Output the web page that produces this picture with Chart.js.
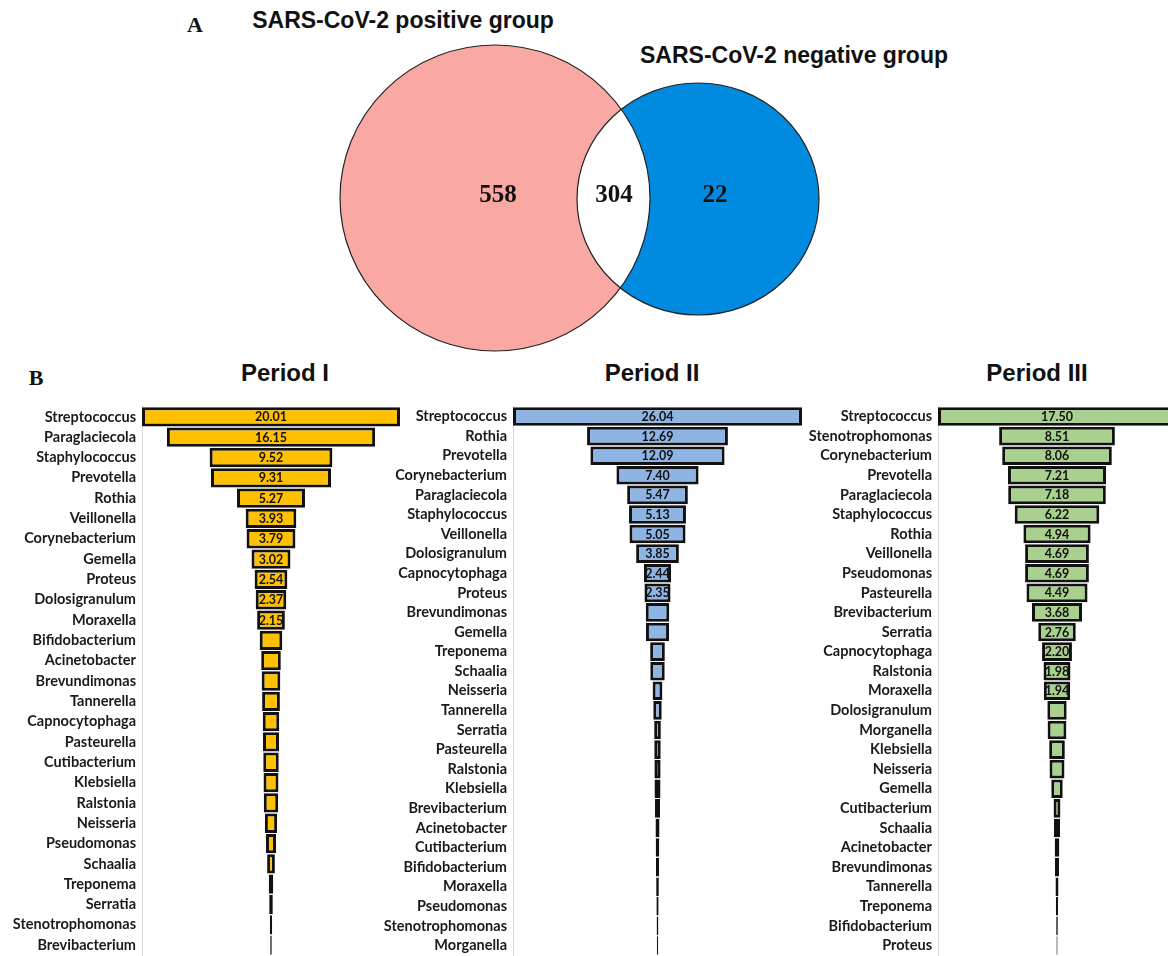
<!DOCTYPE html>
<html>
<head>
<meta charset="utf-8">
<script src="https://cdn.jsdelivr.net/npm/chart.js@4.4.0/dist/chart.umd.min.js"></script>
<style>
html, body { margin: 0; padding: 0; background: #fff; overflow: hidden; }
#fig { position: relative; width: 1168px; height: 956px; overflow: hidden; }
canvas { position: absolute; }
.ttl { position: absolute; white-space: nowrap; transform: translate(-50%, -50%);
       font-family: "Liberation Sans", Arial, sans-serif; font-weight: bold; color: #111; }
.lbl { position: absolute; transform: translate(-50%, -50%);
       font-family: "Liberation Serif", "Times New Roman", serif; font-weight: bold; color: #111; font-size: 22px; }
</style>
</head>
<body>
<div id="fig">
  <div class="lbl" style="left:195px;top:25px">A</div>
  <div class="lbl" style="left:36px;top:378px">B</div>
  <div class="ttl" id="setA" style="left:403px;top:20px;font-size:23px"></div>
  <div class="ttl" id="setB" style="left:794px;top:55px;font-size:23px"></div>
  <div class="ttl" style="left:285px;top:373px;font-size:24px">Period I</div>
  <div class="ttl" style="left:652px;top:373px;font-size:24px">Period II</div>
  <div class="ttl" style="left:1037px;top:373px;font-size:24px">Period III</div>

  <canvas id="venn" width="520" height="340" style="left:320px;top:30px"></canvas>
  <canvas id="p1" width="402" height="578" style="left:0px;top:392px"></canvas>
  <canvas id="p2" width="436" height="578" style="left:370px;top:392px"></canvas>
  <canvas id="p3" width="376" height="578" style="left:800px;top:392px"></canvas>
</div>
<script>
// ---- Venn (A) ----
const vennSets = ['SARS-CoV-2 positive group', 'SARS-CoV-2 negative group'];
const vennCounts = [558, 304, 22]; // positive only, shared, negative only
const vennColors = ['#F9A8A3', '#008BE0'];

// ---- Funnels (B) ----
const period1Labels = ['Streptococcus', 'Paraglaciecola', 'Staphylococcus', 'Prevotella', 'Rothia',
  'Veillonella', 'Corynebacterium', 'Gemella', 'Proteus', 'Dolosigranulum', 'Moraxella',
  'Bifidobacterium', 'Acinetobacter', 'Brevundimonas', 'Tannerella', 'Capnocytophaga', 'Pasteurella',
  'Cutibacterium', 'Klebsiella', 'Ralstonia', 'Neisseria', 'Pseudomonas', 'Schaalia', 'Treponema',
  'Serratia', 'Stenotrophomonas', 'Brevibacterium'];
const period1Values = [20.01, 16.15, 9.52, 9.31, 5.27, 3.93, 3.79, 3.02, 2.54, 2.37, 2.15,
  1.75, 1.52, 1.45, 1.38, 1.28, 1.24, 1.20, 1.16, 1.12, 0.95, 0.78, 0.60, 0.35, 0.28, 0.18, 0.12];

const period2Labels = ['Streptococcus', 'Rothia', 'Prevotella', 'Corynebacterium', 'Paraglaciecola',
  'Staphylococcus', 'Veillonella', 'Dolosigranulum', 'Capnocytophaga', 'Proteus', 'Brevundimonas',
  'Gemella', 'Treponema', 'Schaalia', 'Neisseria', 'Tannerella', 'Serratia', 'Pasteurella', 'Ralstonia',
  'Klebsiella', 'Brevibacterium', 'Acinetobacter', 'Cutibacterium', 'Bifidobacterium', 'Moraxella',
  'Pseudomonas', 'Stenotrophomonas', 'Morganella'];
const period2Values = [26.04, 12.69, 12.09, 7.40, 5.47, 5.13, 5.05, 3.85, 2.44, 2.35,
  2.12, 2.08, 1.32, 1.30, 0.88, 0.76, 0.60, 0.58, 0.56, 0.54, 0.45, 0.36, 0.32, 0.28, 0.24, 0.20, 0.16, 0.12];

const period3Labels = ['Streptococcus', 'Stenotrophomonas', 'Corynebacterium', 'Prevotella', 'Paraglaciecola',
  'Staphylococcus', 'Rothia', 'Veillonella', 'Pseudomonas', 'Pasteurella', 'Brevibacterium', 'Serratia',
  'Capnocytophaga', 'Ralstonia', 'Moraxella', 'Dolosigranulum', 'Morganella', 'Klebsiella', 'Neisseria',
  'Gemella', 'Cutibacterium', 'Schaalia', 'Acinetobacter', 'Brevundimonas', 'Tannerella', 'Treponema',
  'Bifidobacterium', 'Proteus'];
const period3Values = [17.50, 8.51, 8.06, 7.21, 7.18, 6.22, 4.94, 4.69, 4.69, 4.49, 3.68, 2.76, 2.20, 1.98, 1.94,
  1.42, 1.38, 1.15, 1.10, 0.84, 0.50, 0.44, 0.34, 0.30, 0.22, 0.17, 0.12, 0.08];

const labeledCounts = [11, 10, 15]; // bars that carry a value label

document.getElementById('setA').textContent = vennSets[0];
document.getElementById('setB').textContent = vennSets[1];

// ellipse layout in chart units (x 0..520, y 0..340)
const vennShapes = [
  { cx: 175, cy: 168, rx: 155, ry: 153 },
  { cx: 378, cy: 169, rx: 121, ry: 116 }
];
const vennTextPos = [{ x: 178, y: 166 }, { x: 294, y: 166 }, { x: 395, y: 166 }];

function ellipsePath(ctx, s, xs, ys) {
  const px = xs.getPixelForValue(s.cx), py = ys.getPixelForValue(s.cy);
  const rx = Math.abs(xs.getPixelForValue(s.cx + s.rx) - px);
  const ry = Math.abs(ys.getPixelForValue(s.cy + s.ry) - py);
  ctx.beginPath();
  ctx.ellipse(px, py, rx, ry, 0, 0, Math.PI * 2);
}

const vennPlugin = {
  id: 'venn',
  beforeDatasetsDraw(chart) {
    const { ctx, scales: { x, y } } = chart;
    ctx.save();
    vennShapes.forEach((s, i) => {
      ellipsePath(ctx, s, x, y);
      ctx.fillStyle = vennColors[i];
      ctx.fill();
    });
    // shared part is white
    ctx.save();
    ellipsePath(ctx, vennShapes[0], x, y);
    ctx.clip();
    ellipsePath(ctx, vennShapes[1], x, y);
    ctx.fillStyle = '#fff';
    ctx.fill();
    ctx.restore();
    ctx.lineWidth = 1.2;
    ctx.strokeStyle = '#222';
    vennShapes.forEach(s => { ellipsePath(ctx, s, x, y); ctx.stroke(); });
    ctx.restore();
  },
  afterDatasetsDraw(chart) {
    const { ctx } = chart;
    const meta = chart.getDatasetMeta(0);
    ctx.save();
    ctx.font = 'bold 25px "Liberation Serif", "Times New Roman", serif';
    ctx.fillStyle = '#111';
    ctx.textAlign = 'center';
    ctx.textBaseline = 'middle';
    meta.data.forEach((pt, i) => ctx.fillText(String(vennCounts[i]), pt.x, pt.y));
    ctx.restore();
  }
};

new Chart(document.getElementById('venn'), {
  type: 'scatter',
  data: { datasets: [{ data: vennCounts.map((c, i) => vennTextPos[i]), pointRadius: 0 }] },
  options: {
    responsive: false, animation: false, events: [], devicePixelRatio: 1,
    layout: { padding: 0 },
    plugins: { legend: { display: false }, tooltip: { enabled: false } },
    scales: {
      x: { display: false, min: 0, max: 520 },
      y: { display: false, min: 0, max: 340, reverse: true }
    }
  },
  plugins: [vennPlugin]
});

function valueLabels(values, n) {
  return {
    id: 'valueLabels',
    afterDatasetsDraw(chart) {
      const { ctx } = chart;
      const meta = chart.getDatasetMeta(0);
      ctx.save();
      ctx.font = 'bold 12.5px Lato, sans-serif';
      ctx.fillStyle = '#111';
      ctx.textAlign = 'center';
      ctx.textBaseline = 'middle';
      for (let i = 0; i < n; i++) {
        const el = meta.data[i];
        ctx.fillText(values[i].toFixed(2), (el.x + el.base) / 2, el.y + 0.5);
      }
      ctx.restore();
    }
  };
}

function funnel(id, labels, values, color, nLabeled, axisW, padRight) {
  const half = Math.max(...values) / 2;
  new Chart(document.getElementById(id), {
    type: 'bar',
    data: {
      labels: labels,
      datasets: [{
        data: values.map(v => [-v / 2, v / 2]),
        backgroundColor: color,
        borderColor: '#111',
        borderWidth: 3,
        borderSkipped: false,
        barPercentage: 0.95,
        categoryPercentage: 1
      }]
    },
    options: {
      indexAxis: 'y',
      responsive: false, animation: false, events: [], devicePixelRatio: 1,
      layout: { padding: { top: 0, bottom: 0, left: 0, right: padRight } },
      plugins: { legend: { display: false }, tooltip: { enabled: false } },
      scales: {
        x: { display: false, min: -half, max: half },
        y: {
          afterFit: s => { s.width = axisW; },
          grid: { display: false, drawTicks: false },
          border: { display: true, color: '#d9d9d9', width: 1 },
          ticks: { color: '#1a1a1a', padding: 6, autoSkip: false,
                   font: { family: 'Lato', weight: 'bold', size: 14.5 } }
        }
      }
    },
    plugins: [valueLabels(values, nLabeled)]
  });
}

funnel('p1', period1Labels, period1Values, '#FFC000', labeledCounts[0], 142, 2);
funnel('p2', period2Labels, period2Values, '#8EB4E3', labeledCounts[1], 143, 4);
funnel('p3', period3Labels, period3Values, '#A9D08E', labeledCounts[2], 138, 0);
</script>
</body>
</html>
